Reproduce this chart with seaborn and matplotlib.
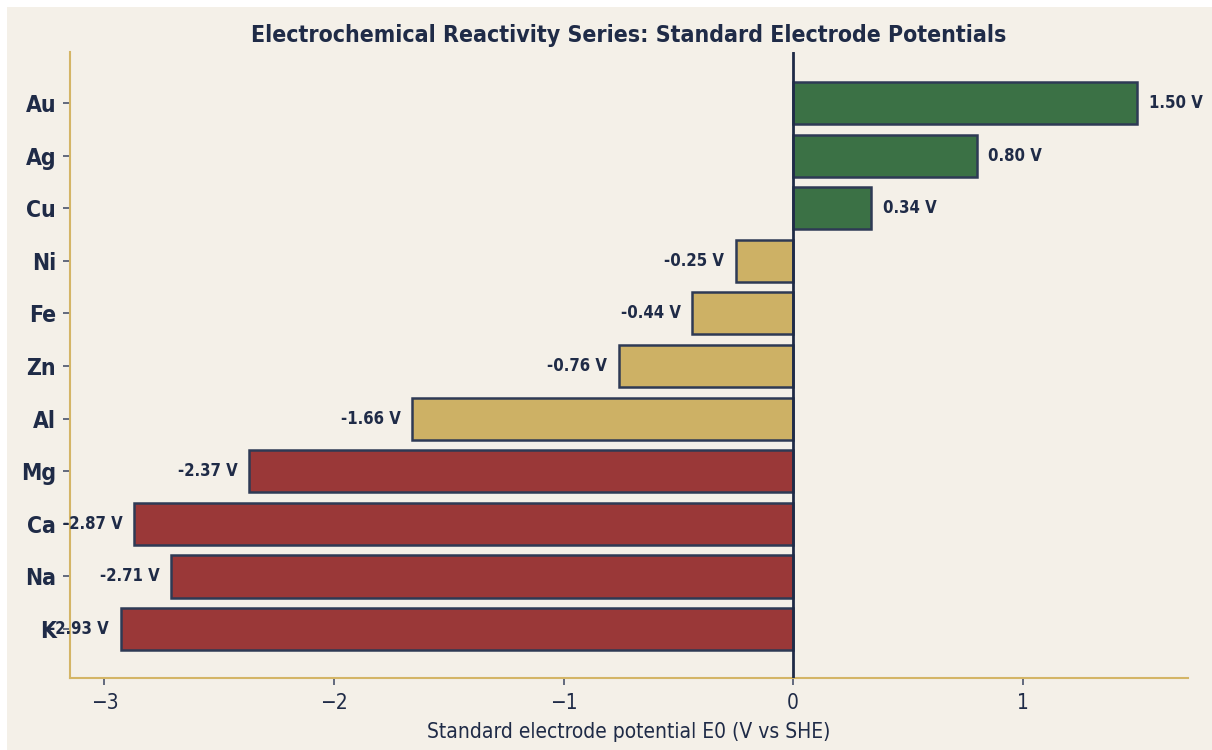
import numpy as np
import pandas as pd
import matplotlib
matplotlib.use("Agg")
import matplotlib.pyplot as plt
import seaborn as sns
from matplotlib.patches import Rectangle

sns.set_style("white")
plt.rcParams["font.family"] = ["DejaVu Sans"]
plt.rcParams["font.stretch"] = "condensed"

# data
metals = ["Au", "Ag", "Cu", "Ni", "Fe", "Zn", "Al", "Mg", "Ca", "Na", "K"]
potentials = [1.50, 0.80, 0.34, -0.25, -0.44, -0.76, -1.66, -2.37, -2.87, -2.71, -2.93]
groups = ["noble", "noble", "noble", "mid", "mid", "mid", "mid",
          "active", "active", "active", "active"]

palette = {"noble": "#3b7145", "mid": "#cdb165", "active": "#9a3838"}
navy = "#1f2b47"
bg = "#f4f0e8"
gold = "#d4b566"

df = pd.DataFrame({"metal": metals, "E0": potentials, "group": groups})

fig = plt.figure(figsize=(12.12, 7.5), dpi=100, facecolor="white")
fig.patches.append(Rectangle((7 / 1212, 0), 1, 1 - 7 / 750, transform=fig.transFigure,
                             facecolor=bg, edgecolor="none", zorder=-10))
ax = fig.add_axes([70 / 1212, 72 / 750, 1118 / 1212, 626 / 750])
ax.set_facecolor(bg)

sns.barplot(data=df, x="E0", y="metal", hue="group", palette=palette, orient="h",
            width=0.8, edgecolor="#2e3a55", linewidth=1.8, legend=False, ax=ax,
            dodge=False, saturation=1)

ax.axvline(0, color=navy, lw=2, zorder=5)

for i, v in enumerate(potentials):
    if v >= 0:
        ax.text(v + 0.05, i, f"{v:.2f} V", ha="left", va="center",
                fontsize=12, fontweight="bold", color=navy)
    else:
        ax.text(v - 0.05, i, f"{v:.2f} V", ha="right", va="center",
                fontsize=12, fontweight="bold", color=navy)

ax.set_xlim(-3.15, 1.72)
ax.set_ylim(10.93, -0.97)
ax.set_title("Electrochemical Reactivity Series: Standard Electrode Potentials",
             fontsize=16.6, fontweight="bold", color=navy, pad=7)
ax.set_xlabel("Standard electrode potential E0 (V vs SHE)", fontsize=15, color=navy,
              labelpad=6)
ax.set_ylabel("")
ax.set_xticks([-3, -2, -1, 0, 1])
ax.tick_params(axis="x", labelsize=15, colors="#3a4560", labelcolor=navy,
               length=5, width=1.1, bottom=True, pad=6)
ax.tick_params(axis="y", labelsize=16.5, colors="#3a4560", labelcolor=navy,
               length=5, width=1.1, left=True, pad=5)
for lbl in ax.get_yticklabels():
    lbl.set_fontweight("bold")

sns.despine(ax=ax)
for s in ["left", "bottom"]:
    ax.spines[s].set_color(gold)
    ax.spines[s].set_linewidth(1.5)

fig.savefig("out.png", dpi=100, facecolor=fig.get_facecolor())
